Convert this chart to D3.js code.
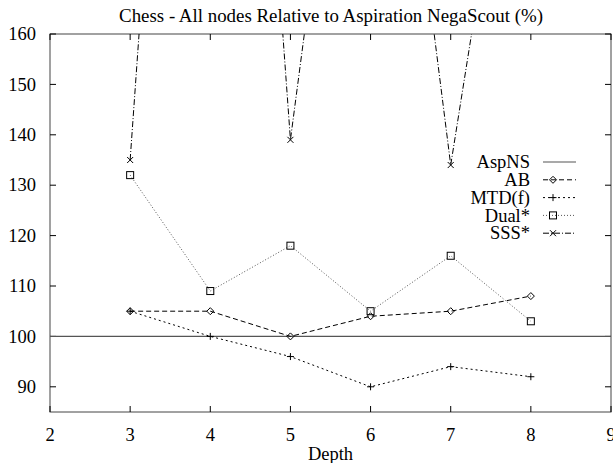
<!DOCTYPE html>
<html>
<head>
<meta charset="utf-8">
<script src="https://cdn.jsdelivr.net/npm/d3@7"></script>
<style>
  html, body { margin: 0; padding: 0; background: #fff; }
  svg { display: block; }
</style>
</head>
<body>
<svg id="chart" width="613" height="463"></svg>
<script>
// ---- data ----
const depths = [3, 4, 5, 6, 7, 8];
const aspNS = 100;            // reference (horizontal line)
const ab    = [105, 105, 100, 104, 105, 108];
const mtdf  = [105, 100, 96, 90, 94, 92];
const dual  = [132, 109, 118, 105, 116, 103];
const sss   = [135, 360, 139, 260, 134, 234];
const xTicks = [2, 3, 4, 5, 6, 7, 8, 9];
const yTicks = [90, 100, 110, 120, 130, 140, 150, 160];
const title = "Chess - All nodes Relative to Aspiration NegaScout (%)";
const xLabel = "Depth";

// ---- layout ----
const FONT = '"Liberation Serif"';
const svg = d3.select("#chart");
const L = 50, R = 611, T = 34, B = 412;
const x = d3.scaleLinear().domain([2, 9]).range([L, R]);
const y = d3.scaleLinear().domain([85, 160]).range([B, T]);
const fs = 18.5;

function txt(g) { return g.append("text").style("font-family", FONT).attr("fill", "#000"); }

svg.append("defs").append("clipPath").attr("id", "clip")
  .append("rect").attr("x", L).attr("y", T).attr("width", R - L).attr("height", B - T);

// border
svg.append("rect").attr("x", L).attr("y", T).attr("width", R - L).attr("height", B - T)
  .attr("fill", "none").attr("stroke", "#444").attr("stroke-width", 1);

// ticks (inward, mirrored)
const tk = 6;
const tg = svg.append("g").attr("stroke", "#000").attr("stroke-width", 1);
yTicks.forEach(v => {
  tg.append("line").attr("x1", L).attr("x2", L + tk).attr("y1", y(v)).attr("y2", y(v));
  tg.append("line").attr("x1", R).attr("x2", R - tk).attr("y1", y(v)).attr("y2", y(v));
});
xTicks.forEach(v => {
  tg.append("line").attr("x1", x(v)).attr("x2", x(v)).attr("y1", B).attr("y2", B - tk);
  tg.append("line").attr("x1", x(v)).attr("x2", x(v)).attr("y1", T).attr("y2", T + tk);
});

// tick labels
const yl = svg.append("g");
yTicks.forEach(v => {
  txt(yl).attr("x", 36).attr("y", y(v)).attr("dy", "0.33em")
    .attr("text-anchor", "end").attr("font-size", fs).text(v);
});
const xl = svg.append("g");
xTicks.forEach(v => {
  txt(xl).attr("x", x(v)).attr("y", 441)
    .attr("text-anchor", "middle").attr("font-size", fs).text(v);
});

// title and axis label
txt(svg).attr("x", 331).attr("y", 22).attr("text-anchor", "middle")
  .attr("font-size", 18.9).text(title);
txt(svg).attr("x", x(5.5)).attr("y", 460).attr("text-anchor", "middle")
  .attr("font-size", fs).text(xLabel);

// ---- series ----
const plot = svg.append("g").attr("clip-path", "url(#clip)");
const line = d3.line().x(d => x(d[0])).y(d => y(d[1]));

const series = [
  { name: "AB",     vals: ab,   dash: "5,3", color: "#000", marker: "diamond" },
  { name: "MTD(f)", vals: mtdf, dash: "2,3", color: "#000", marker: "plus" },
  { name: "Dual*",  vals: dual, dash: "1,2", color: "#555", marker: "square" },
  { name: "SSS*",   vals: sss,  dash: "6,2,1,2", color: "#000", marker: "cross" }
];

// AspNS reference line across full x-domain
plot.append("line").attr("x1", x(2)).attr("x2", x(9))
  .attr("y1", y(aspNS)).attr("y2", y(aspNS))
  .attr("stroke", "#555").attr("stroke-width", 1.2);

function drawMarker(g, type, cx, cy) {
  const s = 3.5;
  if (type === "diamond") {
    g.append("path").attr("d", `M${cx},${cy - s}L${cx + s},${cy}L${cx},${cy + s}L${cx - s},${cy}Z`)
      .attr("fill", "none").attr("stroke", "#000").attr("stroke-width", 1);
  } else if (type === "plus") {
    g.append("path").attr("d", `M${cx - s},${cy}H${cx + s}M${cx},${cy - s}V${cy + s}`)
      .attr("stroke", "#000").attr("stroke-width", 1);
  } else if (type === "square") {
    g.append("rect").attr("x", cx - s).attr("y", cy - s).attr("width", 2 * s).attr("height", 2 * s)
      .attr("fill", "none").attr("stroke", "#000").attr("stroke-width", 1);
  } else if (type === "cross") {
    const c = 3;
    g.append("path").attr("d", `M${cx - c},${cy - c}L${cx + c},${cy + c}M${cx - c},${cy + c}L${cx + c},${cy - c}`)
      .attr("stroke", "#000").attr("stroke-width", 1);
  }
}

series.forEach(s => {
  const pts = depths.map((d, i) => [d, s.vals[i]]);
  plot.append("path").datum(pts).attr("d", line)
    .attr("fill", "none").attr("stroke", s.color).attr("stroke-width", 1)
    .attr("stroke-dasharray", s.dash);
  const mg = plot.append("g");
  pts.forEach(p => {
    if (p[1] <= 160) drawMarker(mg, s.marker, x(p[0]), y(p[1]));
  });
});

// ---- legend ----
const legend = [
  { name: "AspNS", dash: null, color: "#555", marker: null },
  ...series
];
const lg = svg.append("g");
legend.forEach((s, i) => {
  const ly = 162 + i * 17.8;
  txt(lg).attr("x", 530).attr("y", ly).attr("dy", "0.33em")
    .attr("text-anchor", "end").attr("font-size", fs).text(s.name);
  lg.append("line").attr("x1", 543).attr("x2", 576).attr("y1", ly).attr("y2", ly)
    .attr("stroke", s.color).attr("stroke-width", s.dash ? 1 : 1.2)
    .attr("stroke-dasharray", s.dash || null);
  if (s.marker) drawMarker(lg, s.marker, 553, ly);
});
</script>
</body>
</html>
